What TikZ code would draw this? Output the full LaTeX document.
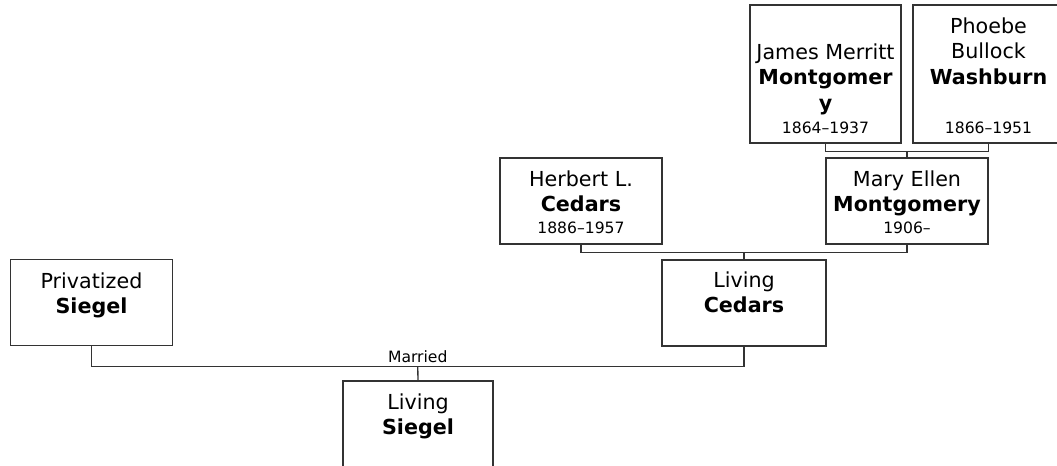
\documentclass[tikz,border=0pt]{standalone}
\usepackage{fontspec}
\setmainfont{DejaVu Sans}
\usetikzlibrary{positioning,calc}
\definecolor{Edge}{HTML}{333333}
\definecolor{Ink}{HTML}{000000}
\newcommand{\namesize}{\fontsize{15.5pt}{19pt}\selectfont}
\newcommand{\datesize}{\fontsize{11.7pt}{14pt}\selectfont}
\tikzset{
  person/.style={draw=Edge,line width=1pt,fill=white,inner sep=0pt,minimum height=64.5pt,minimum width=121.5pt},
  tallperson/.style={person,minimum height=103.5pt,minimum width=113.25pt},
  namebox/.style={inner sep=0pt,align=center,font=\namesize,text=Ink,anchor=north},
  datebox/.style={inner sep=0pt,font=\datesize,text=Ink,anchor=base},
  link/.style={draw=Edge,line width=1pt}
}
\begin{document}
\begin{tikzpicture}[x=0.75pt,y=-0.75pt]
\useasboundingbox (0,0) rectangle (1057,466);
% grandparents
\node[tallperson] (james) at (825.5,74) {};
\node[tallperson] (phoebe) at (988.5,74) {};
\node[namebox] (jamesname) at ($(james.north)+(0,39.3)$) {James Merritt\\\textbf{Montgomer}\\\textbf{y}};
\node[datebox] (jamesdate) at ($(james.south)+(0,-10)$) {1864–1937};
\node[namebox] (phoebename) at ($(phoebe.north)+(0,13.3)$) {Phoebe\\Bullock\\\textbf{Washburn}};
\node[datebox] (phoebedate) at ($(phoebe.south)+(0,-10)$) {1866–1951};
% parents
\node[person] (herbert) at (581,201) {};
\node[person] (mary) at (907,201) {};
\node[namebox] (herbertname) at ($(herbert.north)+(0,13.3)$) {Herbert L.\\\textbf{Cedars}};
\node[datebox] (herbertdate) at ($(herbert.south)+(0,-11)$) {1886–1957};
\node[namebox] (maryname) at ($(mary.north)+(0,13.3)$) {Mary Ellen\\\textbf{Montgomery}};
\node[datebox] (marydate) at ($(mary.south)+(0,-11)$) {1906–};
% couple
\node[person] (privatized) at (91.5,302.5) {};
\node[person,minimum width=123pt] (cedars) at (744,303) {};
\node[namebox] (privatizedname) at ($(privatized.north)+(0,13.3)$) {Privatized\\\textbf{Siegel}};
\node[namebox] (cedarsname) at ($(cedars.north)+(0,12.3)$) {Living\\\textbf{Cedars}};
% child
\node[person,minimum width=112.5pt] (siegel) at (418,424) {};
\node[namebox] (siegelname) at ($(siegel.north)+(0,13.3)$) {Living\\\textbf{Siegel}};
% connectors
\coordinate (jm) at ($(james.south)!0.5!(phoebe.south)+(0,8)$);
\coordinate (hm) at ($(herbert.south)!0.5!(mary.south)+(0,8)$);
\coordinate (sm) at ($(privatized.south)!0.5!(cedars.south)+(0,20)$);
\draw[link] (james.south) |- (jm) -| (phoebe.south);
\draw[link] (jm) -- (mary.north);
\draw[link] (herbert.south) |- (hm) -| (mary.south);
\draw[link] (hm) -- (cedars.north);
\draw[link] (privatized.south) |- (sm) -| (cedars.south);
\draw[link] (sm) -- (siegel.north);
\node[datebox] (married) at ($(sm)+(0,-4)$) {Married};
\end{tikzpicture}
\end{document}
